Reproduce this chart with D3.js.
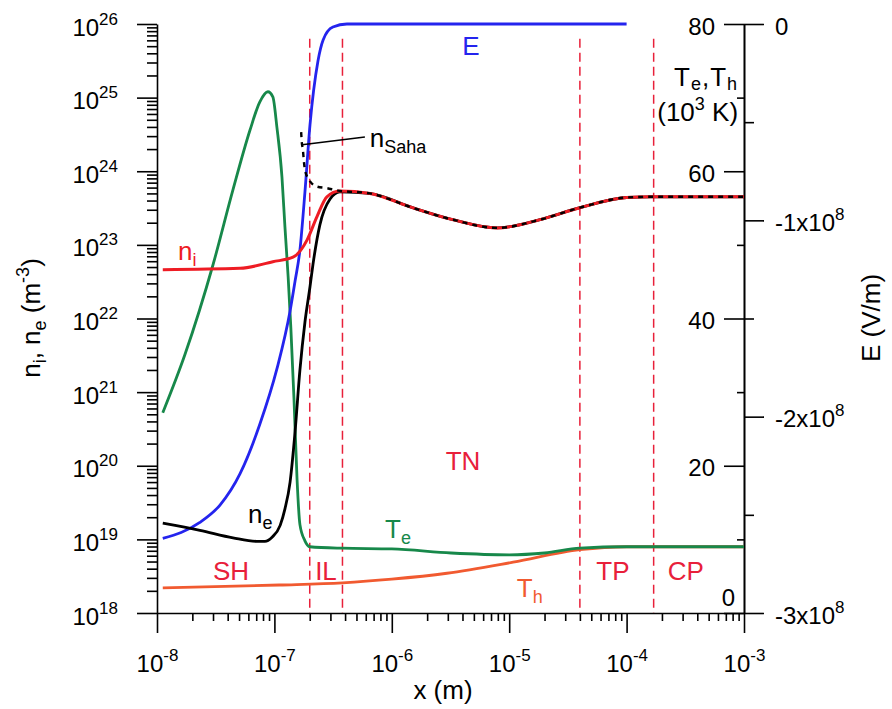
<!DOCTYPE html>
<html>
<head>
<meta charset="utf-8">
<script src="https://cdn.jsdelivr.net/npm/d3@7"></script>
<style>
  body { margin: 0; background: #fff; }
  svg { font-family: "Liberation Sans", Arial, Helvetica, sans-serif; }
</style>
</head>
<body>
<div id="chart"></div>
<script>
// values: x in m, n in m^-3, T in 10^3 K, E in V/m
const eField = [
  [1.12e-8, -2.62e8], [2.3e-8, -2.54e8], [3.44e-8, -2.45e8], [5.1e-8, -2.29e8],
  [7.5e-8, -2.04e8], [1.05e-7, -1.757e8], [1.36e-7, -1.462e8], [1.5e-7, -1.309e8],
  [1.65e-7, -1.151e8], [1.82e-7, -0.856e8], [2.01e-7, -0.514e8], [2.35e-7, -0.188e8],
  [2.6e-7, -0.081e8], [3.15e-7, -0.015e8], [4.15e-7, 0], [1e-4, 0]
];
const tElectron = [
  [1.12e-8, 27.2], [1.73e-8, 35.1], [3.0e-8, 47.3], [4.44e-8, 57.5], [6.2e-8, 65.6],
  [7.5e-8, 69.4], [8.8e-8, 70.8], [9.7e-8, 70.1], [1.05e-7, 66.0], [1.16e-7, 59.2],
  [1.23e-7, 52.4], [1.31e-7, 45.6], [1.38e-7, 38.8], [1.47e-7, 28.9], [1.56e-7, 18.1],
  [1.65e-7, 12.0], [1.82e-7, 9.8], [2.0e-7, 9.0], [3.8e-7, 8.8], [1e-6, 8.7],
  [3.2e-6, 8.15], [1e-5, 7.9], [2e-5, 8.15], [4e-5, 8.8], [1e-4, 9.0], [1e-3, 9.0]
];
const tHeavy = [
  [1.12e-8, 3.4], [1.1e-7, 3.8], [3.8e-7, 4.1], [1e-6, 4.6], [2.95e-6, 5.4],
  [1.08e-5, 6.9], [4e-5, 8.6], [1e-4, 9.0], [1e-3, 9.0]
];
const nIon = [
  [1.12e-8, 4.6e22], [5.1e-8, 4.8e22], [9.7e-8, 5.9e22], [1.44e-7, 6.8e22],
  [1.9e-7, 1.17e23], [2.3e-7, 2.4e23], [2.8e-7, 4.5e23], [3.6e-7, 5.4e23],
  [6.5e-7, 5.0e23], [1.5e-6, 3.2e23], [3.3e-6, 2.2e23], [7.9e-6, 1.7e23],
  [1.83e-5, 2.2e23], [4e-5, 3.2e23], [1e-4, 4.4e23], [1.6e-4, 4.5e23], [1e-3, 4.5e23]
];
const nElectron = [
  [1.12e-8, 1.66e19], [2.32e-8, 1.33e19], [4.44e-8, 1.05e19], [7.1e-8, 9.4e18],
  [8.3e-8, 9.4e18], [9.55e-8, 1.07e19], [1.12e-7, 1.55e19], [1.23e-7, 2.6e19],
  [1.36e-7, 6.0e19], [1.5e-7, 2.9e20], [1.65e-7, 2.0e21], [1.82e-7, 8.9e21],
  [2.01e-7, 2.7e22], [2.13e-7, 5.4e22], [2.44e-7, 1.87e23], [2.98e-7, 4.2e23],
  [3.62e-7, 5.25e23], [6.5e-7, 5.0e23], [1.5e-6, 3.2e23], [3.3e-6, 2.2e23],
  [7.9e-6, 1.7e23], [1.83e-5, 2.2e23], [4e-5, 3.2e23], [1e-4, 4.4e23],
  [1.6e-4, 4.5e23], [1e-3, 4.5e23]
];
const nSaha = [
  [1.69e-7, 3.4e24], [1.71e-7, 2.5e24], [1.75e-7, 1.95e24], [1.78e-7, 1.4e24],
  [1.82e-7, 1.05e24], [1.93e-7, 8.1e23], [2.3e-7, 6.2e23], [2.8e-7, 5.9e23],
  [3.4e-7, 5.5e23], [6.5e-7, 5.0e23], [1.5e-6, 3.2e23], [3.3e-6, 2.2e23],
  [7.9e-6, 1.7e23], [1.83e-5, 2.2e23], [4e-5, 3.2e23], [1e-4, 4.4e23],
  [1.6e-4, 4.5e23], [1e-3, 4.5e23]
];

// region boundaries (dashed) and region names
const regionBounds = [2e-7, 3.8e-7, 4e-5, 1.7e-4];
const regionNames = ["SH", "IL", "TN", "TP", "CP"];
const regionX = [4.27e-8, 2.75e-7, 4.04e-6, 7.65e-5, 3.2e-4];
const regionT = [4.5, 4.5, 19.4, 4.5, 4.5];

// ticks
const xMajor = [1e-8, 1e-7, 1e-6, 1e-5, 1e-4, 1e-3];
const nMajor = [1e18, 1e19, 1e20, 1e21, 1e22, 1e23, 1e24, 1e25, 1e26];
const tMajor = [0, 20, 40, 60, 80];
const tMinor = [10, 30, 50, 70];
const eMajor = [0, -1e8, -2e8, -3e8];
const eMinor = [-0.5e8, -1.5e8, -2.5e8];

const cBlue = "#2424ee", cGreen = "#17884a", cRed = "#ee1c24",
  cOrange = "#f15a30", cRegion = "#e8203a";

const w = 892, h = 709;
const svg = d3.select("#chart").append("svg").attr("width", w).attr("height", h);

const x = d3.scaleLog().domain([1e-8, 1e-3]).range([157, 744]);
const yN = d3.scaleLog().domain([1e18, 1e26]).range([613, 24]);
const yT = d3.scaleLinear().domain([0, 80]).range([613, 24]);
const yE = d3.scaleLinear().domain([-3e8, 0]).range([613, 24]);

function minorLog(majors) {
  let out = [];
  for (let i = 0; i < majors.length - 1; i++) {
    for (let k = 2; k <= 9; k++) out.push(majors[i] * k);
  }
  return out;
}

function styleAxis(g) {
  g.attr("font-size", 24).attr("font-family", null);
  g.selectAll("line, path").attr("stroke", "#000").attr("stroke-width", 1.6);
}

// "10" with a superscript exponent
function powLabel(t, pre, exp) {
  t.text(null);
  t.append("tspan").text(pre);
  t.append("tspan").attr("dy", -11).attr("font-size", 17).text(exp);
}

// ---- dashed region lines ----
svg.append("g")
  .selectAll("line")
  .data(regionBounds)
  .enter()
  .append("line")
  .attr("x1", d => x(d)).attr("x2", d => x(d))
  .attr("y1", yT(78)).attr("y2", yT(0))
  .attr("stroke", cRegion)
  .attr("stroke-width", 1.5)
  .attr("stroke-dasharray", "9,5");

// ---- axes ----
let gx = svg.append("g")
  .attr("transform", "translate(0," + yT(0) + ")")
  .call(d3.axisBottom(x).tickValues(xMajor).tickSize(20).tickSizeOuter(0).tickPadding(22));
styleAxis(gx);
gx.selectAll(".tick text").each(function(d) {
  powLabel(d3.select(this), "10", String(Math.round(Math.log10(d))));
});
let gxm = svg.append("g")
  .attr("transform", "translate(0," + yT(0) + ")")
  .call(d3.axisBottom(x).tickValues(minorLog(xMajor)).tickSize(8).tickFormat(""));
styleAxis(gxm);
gxm.select(".domain").remove();

let gn = svg.append("g")
  .attr("transform", "translate(" + x(1e-8) + ",0)")
  .call(d3.axisLeft(yN).tickValues(nMajor).tickSize(20).tickSizeOuter(0).tickPadding(19));
styleAxis(gn);
gn.selectAll(".tick text").attr("dy", 11).each(function(d) {
  powLabel(d3.select(this), "10", String(Math.round(Math.log10(d))));
});
let gnm = svg.append("g")
  .attr("transform", "translate(" + x(1e-8) + ",0)")
  .call(d3.axisLeft(yN).tickValues(minorLog(nMajor)).tickSize(10).tickFormat(""));
styleAxis(gnm);
gnm.select(".domain").remove();

let gt = svg.append("g")
  .attr("transform", "translate(" + x(1e-3) + ",0)")
  .call(d3.axisLeft(yT).tickValues(tMajor).tickSize(20).tickSizeOuter(0).tickPadding(9).tickFormat(d3.format("d")));
styleAxis(gt);
gt.selectAll(".tick text").attr("dy", 10);
gt.selectAll(".tick text").filter(d => d === 0).attr("x", -9).attr("dy", -8);
let gtm = svg.append("g")
  .attr("transform", "translate(" + x(1e-3) + ",0)")
  .call(d3.axisLeft(yT).tickValues(tMinor).tickSize(7).tickFormat(""));
styleAxis(gtm);
gtm.select(".domain").remove();

let ge = svg.append("g")
  .attr("transform", "translate(" + x(1e-3) + ",0)")
  .call(d3.axisRight(yE).tickValues(eMajor).tickSize(20).tickSizeOuter(0).tickPadding(11));
styleAxis(ge);
ge.selectAll(".tick text").attr("dy", 10).each(function(d) {
  let t = d3.select(this);
  if (d === 0) t.text("0");
  else powLabel(t, "-" + Math.round(-d / 1e8) + "x10", "8");
});
let gem = svg.append("g")
  .attr("transform", "translate(" + x(1e-3) + ",0)")
  .call(d3.axisRight(yE).tickValues(eMinor).tickSize(10).tickFormat(""));
styleAxis(gem);
gem.select(".domain").remove();

// ---- curves ----
function drawLine(data, yScale, color, width, dash) {
  let line = d3.line()
    .x(d => x(d[0]))
    .y(d => yScale(d[1]))
    .curve(d3.curveMonotoneX);
  let p = svg.append("path")
    .datum(data)
    .attr("d", line)
    .attr("fill", "none")
    .attr("stroke", color)
    .attr("stroke-width", width)
    .attr("stroke-linejoin", "round");
  if (dash) p.attr("stroke-dasharray", dash);
  return p;
}

drawLine(tHeavy, yT, cOrange, 2.8);
drawLine(tElectron, yT, cGreen, 2.8);
drawLine(eField, yE, cBlue, 2.8);
drawLine(nElectron, yN, "#000", 2.8);
drawLine(nIon, yN, cRed, 3);
drawLine(nSaha, yN, "#000", 2.4, "5,5");

// ---- labels ----
function subText(px, py, parts, color, size, anchor, subShift) {
  let t = svg.append("text")
    .attr("x", px).attr("y", py)
    .attr("fill", color)
    .attr("font-size", size)
    .attr("text-anchor", anchor || "start");
  let shift = 0;
  parts.forEach(function(p) {
    let off = p[1] === "sub" ? (subShift || 6) : p[1] === "sup" ? -11 : 0;
    let s = t.append("tspan").text(p[0]).attr("dy", off - shift);
    if (off !== 0) s.attr("font-size", 18);
    shift = off;
  });
  return t;
}

svg.append("g")
  .selectAll("text")
  .data(regionNames)
  .enter()
  .append("text")
  .attr("x", (d, i) => x(regionX[i]))
  .attr("y", (d, i) => yT(regionT[i]))
  .attr("text-anchor", "middle")
  .attr("font-size", 26)
  .attr("fill", cRegion)
  .text(d => d);

subText(x(4.73e-6), yT(75.8), [["E"]], cBlue, 26, "middle");
subText(x(1.51e-8), yT(47.9), [["n"], ["i", "sub"]], cRed, 26);
subText(x(5.96e-8), yT(12.2), [["n"], ["e", "sub"]], "#000", 26);
subText(x(8.75e-7), yT(10.2), [["T"], ["e", "sub"]], cGreen, 26);
subText(x(1.16e-5), yT(2.2), [["T"], ["h", "sub"]], cOrange, 26);
subText(x(6.5e-7), yT(63.3), [["n"], ["Saha", "sub"]], "#000", 26);

svg.append("line")
  .attr("x1", x(1.72e-7)).attr("y1", yT(63.6))
  .attr("x2", x(5.9e-7)).attr("y2", yT(64.65))
  .attr("stroke", "#000").attr("stroke-width", 1.6);

subText(x(8.9e-4), yT(71.6), [["T"], ["e", "sub"], [","], ["T"], ["h", "sub"]], "#000", 26, "end", 4)
  .attr("letter-spacing", 1);
subText(x(8.9e-4), yT(66.8), [["(10"], ["3", "sup"], [" K)"]], "#000", 26, "end");

// axis titles
subText(443, 699, [["x (m)"]], "#000", 26, "middle");
subText(0, 0, [["n"], ["i", "sub"], [", n"], ["e", "sub"], [" (m"], ["-3", "sup"], [")"]], "#000", 26, "middle")
  .attr("transform", "translate(40,318) rotate(-90)");
subText(0, 0, [["E (V/m)"]], "#000", 26, "middle")
  .attr("transform", "translate(880,318) rotate(-90)");
</script>
</body>
</html>
